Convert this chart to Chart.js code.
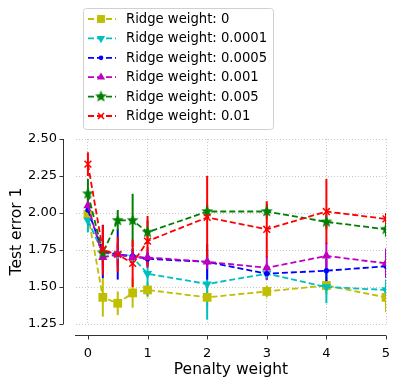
<!DOCTYPE html>
<html>
<head>
<meta charset="utf-8">
<script src="https://cdn.jsdelivr.net/npm/chart.js@4/dist/chart.umd.min.js"></script>
<style>
  html, body { margin: 0; padding: 0; background: #fff; }
  #wrap { width: 398px; height: 384px; }
</style>
</head>
<body>
<div id="wrap"><canvas id="chart" width="398" height="384"></canvas></div>
<script>
// x values and tick labels
const penalty = [0, 0.25, 0.5, 0.75, 1, 2, 3, 4, 5];
const xTicks = [0, 1, 2, 3, 4, 5];
const yTicks = [1.25, 1.5, 1.75, 2.0, 2.25, 2.5];

const ridgeLabels = ["Ridge weight: 0", "Ridge weight: 0.0001", "Ridge weight: 0.0005",
  "Ridge weight: 0.001", "Ridge weight: 0.005", "Ridge weight: 0.01"];

// mean test error and error bar half-height, one pair per ridge weight
const errR0 = [1.99, 1.43, 1.39, 1.46, 1.48, 1.43, 1.47, 1.51, 1.43];
const sdR0 = [0.05, 0.13, 0.08, 0.10, 0.05, 0.06, 0.04, 0.06, 0.10];
const errR00001 = [1.95, 1.73, 1.72, 1.70, 1.59, 1.52, 1.59, 1.50, 1.48];
const sdR00001 = [0.08, 0.08, 0.07, 0.06, 0.15, 0.24, 0.04, 0.11, 0.07];
const errR00005 = [2.02, 1.74, 1.72, 1.71, 1.69, 1.67, 1.59, 1.61, 1.64];
const sdR00005 = [0.10, 0.18, 0.17, 0.05, 0.04, 0.12, 0.04, 0.08, 0.05];
const errR0001 = [2.05, 1.70, 1.72, 1.70, 1.70, 1.67, 1.63, 1.71, 1.66];
const sdR0001 = [0.10, 0.08, 0.08, 0.05, 0.07, 0.05, 0.08, 0.09, 0.10];
const errR0005 = [2.13, 1.73, 1.95, 1.95, 1.87, 2.01, 2.01, 1.94, 1.89];
const sdR0005 = [0.10, 0.05, 0.07, 0.18, 0.08, 0.05, 0.05, 0.05, 0.05];
const errR001 = [2.33, 1.75, 1.72, 1.66, 1.81, 1.97, 1.89, 2.01, 1.96];
const sdR001 = [0.08, 0.17, 0.12, 0.16, 0.17, 0.28, 0.19, 0.22, 0.04];

const means = [errR0, errR00001, errR00005, errR0001, errR0005, errR001];
const sds = [sdR0, sdR00001, sdR00005, sdR0001, sdR0005, sdR001];
const colors = ["#bfbf00", "#00bfbf", "#0000ff", "#bf00bf", "#008000", "#ff0000"];

const FONT = "'DejaVu Sans', sans-serif";

function starMarker(color, r) {
  const c = document.createElement("canvas");
  const s = Math.ceil(r * 2 + 2);
  c.width = s; c.height = s;
  const ctx = c.getContext("2d");
  ctx.fillStyle = color;
  ctx.beginPath();
  for (let i = 0; i < 10; i++) {
    const rad = i % 2 === 0 ? r : r * 0.42;
    const a = -Math.PI / 2 + i * Math.PI / 5;
    const px = s / 2 + rad * Math.cos(a), py = s / 2 + rad * Math.sin(a);
    if (i === 0) ctx.moveTo(px, py); else ctx.lineTo(px, py);
  }
  ctx.closePath();
  ctx.fill();
  return c;
}

const markers = [
  { style: "rect", radius: 6.2, rotation: 0 },
  { style: "triangle", radius: 5.3, rotation: 180 },
  { style: "circle", radius: 2.6, rotation: 0 },
  { style: "triangle", radius: 5.3, rotation: 0 },
  { style: starMarker(colors[4], 6.3), radius: 6.3, rotation: 0 },
  { style: "crossRot", radius: 4.8, rotation: 0 }
];

const datasets = means.map((m, i) => ({
  label: ridgeLabels[i],
  data: penalty.map((x, j) => ({ x: x, y: m[j] })),
  borderColor: colors[i],
  backgroundColor: colors[i],
  borderWidth: 1.8,
  borderDash: [6, 3],
  pointStyle: markers[i].style,
  pointRadius: markers[i].radius,
  pointRotation: markers[i].rotation,
  pointBorderWidth: i === 5 ? 1.5 : 0,
  pointBackgroundColor: colors[i],
  pointBorderColor: colors[i],
  order: 5 - i,
  tension: 0
}));

const errorBars = {
  id: "errorBars",
  beforeDatasetsDraw(chart) {
    const ctx = chart.ctx, xs = chart.scales.x, ys = chart.scales.y, a = chart.chartArea;
    ctx.save();
    ctx.beginPath();
    ctx.rect(a.left, a.top, a.right - a.left, a.bottom - a.top);
    ctx.clip();
    ctx.lineWidth = 2;
    means.forEach((m, i) => {
      ctx.strokeStyle = colors[i];
      penalty.forEach((x, j) => {
        const px = xs.getPixelForValue(x);
        ctx.beginPath();
        ctx.moveTo(px, ys.getPixelForValue(m[j] - sds[i][j]));
        ctx.lineTo(px, ys.getPixelForValue(m[j] + sds[i][j]));
        ctx.stroke();
      });
    });
    ctx.restore();
  }
};

const spines = {
  id: "spines",
  afterDraw(chart) {
    const ctx = chart.ctx, xs = chart.scales.x, ys = chart.scales.y, a = chart.chartArea;
    ctx.save();
    ctx.strokeStyle = "#333";
    ctx.lineWidth = 1;
    const sx = a.left - 12.5, sy = a.bottom + 11.5;
    ctx.beginPath();
    ctx.moveTo(sx, ys.getPixelForValue(2.5));
    ctx.lineTo(sx, ys.getPixelForValue(1.25));
    yTicks.forEach(v => {
      const py = Math.round(ys.getPixelForValue(v)) + 0.5;
      ctx.moveTo(sx, py); ctx.lineTo(sx - 4, py);
    });
    ctx.moveTo(a.left - 1, sy);
    ctx.lineTo(a.right, sy);
    xTicks.forEach(v => {
      const px = Math.round(xs.getPixelForValue(v)) + 0.5;
      ctx.moveTo(px, sy); ctx.lineTo(px, sy + 4);
    });
    ctx.stroke();
    ctx.restore();
  }
};

const legendBox = {
  id: "legendBox",
  afterDraw(chart) {
    const ctx = chart.ctx;
    ctx.save();
    ctx.fillStyle = "rgba(255,255,255,0.8)";
    ctx.strokeStyle = "#d0d0d0";
    ctx.lineWidth = 1;
    ctx.beginPath();
    ctx.roundRect(83.5, 8.5, 190, 121, 3);
    ctx.fill();
    ctx.stroke();
    ridgeLabels.forEach((label, i) => {
      const cy = 19 + i * 19.4;
      ctx.strokeStyle = colors[i];
      ctx.lineWidth = 1.8;
      ctx.setLineDash([6, 3]);
      ctx.beginPath();
      ctx.moveTo(88, cy); ctx.lineTo(116, cy);
      ctx.stroke();
      ctx.setLineDash([]);
      const mk = markers[i];
      ctx.fillStyle = colors[i];
      ctx.strokeStyle = colors[i];
      ctx.lineWidth = 1.5;
      Chart.helpers.drawPoint(ctx, {
        pointStyle: mk.style, radius: mk.radius * 0.9, rotation: mk.rotation,
        borderWidth: i === 5 ? 1.5 : 0
      }, 101, cy);
      ctx.fillStyle = "#000";
      ctx.font = "13.2px " + FONT;
      ctx.textBaseline = "middle";
      ctx.fillText(label, 126, cy + 0.5);
    });
    ctx.restore();
  }
};

new Chart(document.getElementById("chart"), {
  type: "line",
  data: { datasets: datasets },
  options: {
    responsive: false,
    animation: false,
    events: [],
    layout: { padding: { left: 0, right: 12, top: 139, bottom: 0 } },
    plugins: { legend: { display: false }, tooltip: { enabled: false } },
    scales: {
      x: {
        type: "linear",
        min: -0.2,
        max: 5,
        afterFit: s => { s.height = 60; s.paddingLeft = 0; s.paddingRight = 0; },
        afterBuildTicks: s => { s.ticks = xTicks.map(v => ({ value: v })); },
        grid: { color: "#c8c8c8", drawTicks: false, lineWidth: 1 },
        border: { display: false, dash: [1, 2] },
        ticks: { color: "#000", padding: 22, font: { family: FONT, size: 13 }, callback: v => String(v) },
        title: { display: true, text: "Penalty weight", color: "#000", font: { family: FONT, size: 15.5 }, padding: { top: 0, bottom: 5 } }
      },
      y: {
        min: 1.25,
        max: 2.5,
        afterFit: s => { s.width = 76; },
        afterBuildTicks: s => { s.ticks = yTicks.map(v => ({ value: v })); },
        grid: { color: "#c8c8c8", drawTicks: false, lineWidth: 1 },
        border: { display: false, dash: [1, 2] },
        ticks: { color: "#000", padding: 19, font: { family: FONT, size: 13 }, callback: v => v.toFixed(2) },
        title: { display: true, text: "Test error 1", color: "#000", font: { family: FONT, size: 15.5 }, padding: { top: 8, bottom: 0 } }
      }
    }
  },
  plugins: [errorBars, spines, legendBox]
});
</script>
</body>
</html>
